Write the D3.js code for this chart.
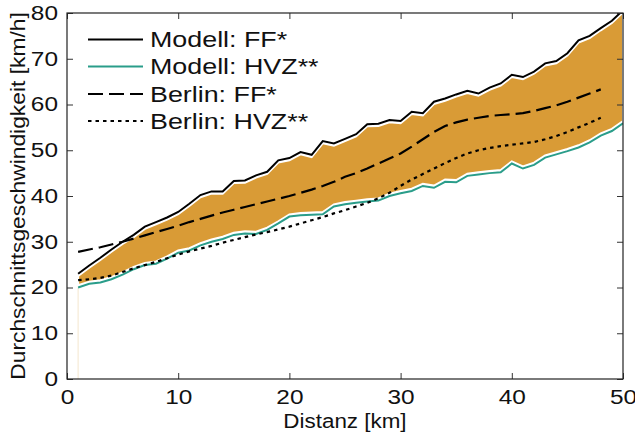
<!DOCTYPE html>
<html><head><meta charset="utf-8">
<script src="https://cdn.jsdelivr.net/npm/d3@7"></script>
<style>body{margin:0;background:#fff}svg{display:block;font-family:"Liberation Sans",Arial,sans-serif}</style>
</head><body><svg id="c" width="635" height="437"></svg>
<script>
const kmModel = d3.range(1, 51);
const modellFF = [23.0,24.8,26.5,28.3,30.0,31.5,33.3,34.3,35.3,36.5,38.3,40.2,41.0,41.0,43.3,43.4,44.5,45.3,47.8,48.3,
  49.6,49.0,52.0,51.5,52.5,53.5,55.7,55.8,56.6,56.4,58.4,58.1,60.6,61.3,62.2,63.0,62.4,63.7,64.6,66.5,
  66.0,67.2,69.0,69.5,71.2,74.0,75.0,76.7,78.3,80.6];
const modellHVZ = [20.0,20.8,21.1,21.8,22.8,24.0,24.9,25.2,26.3,27.6,28.1,29.2,30.0,30.6,31.5,31.8,31.7,32.6,34.0,35.5,
  35.8,35.9,36.0,37.7,38.2,38.5,38.8,39.0,40.0,40.6,41.1,42.2,41.8,43.1,43.0,44.4,44.7,45.0,45.2,47.1,
  46.0,46.8,48.4,49.1,49.8,50.6,51.7,53.2,54.2,55.9];
const kmBerlin = d3.range(1, 49);
const berlinFF = [27.8,28.3,28.8,29.4,30.0,30.7,31.4,32.1,32.8,33.5,34.3,35.0,35.7,36.4,37.0,37.6,38.2,38.8,39.4,40.0,
  40.7,41.4,42.2,43.1,44.2,45.0,46.0,47.1,48.2,49.3,50.8,52.4,54.0,55.3,56.1,56.7,57.1,57.5,57.7,57.9,
  58.1,58.6,59.2,59.8,60.6,61.5,62.4,63.3];
const berlinHVZ = [21.6,21.8,22.1,22.6,23.4,24.2,24.9,25.6,26.4,27.2,27.9,28.5,29.1,29.8,30.4,31.0,31.6,32.1,32.7,33.3,
  34.0,34.7,35.4,36.2,36.9,37.7,38.5,39.5,40.7,42.2,43.6,44.8,46.0,47.2,48.3,49.3,50.0,50.5,50.9,51.2,
  51.5,51.8,52.4,53.1,54.0,55.0,56.0,57.1];
const xTicks = [0,10,20,30,40,50];
const yTicks = [0,10,20,30,40,50,60,70,80];
const legendLabels = ["Modell: FF*","Modell: HVZ**","Berlin: FF*","Berlin: HVZ**"];
const xLabel = "Distanz [km]";
const yLabel = "Durchschnittsgeschwindigkeit [km/h]";

const L=67,R=623,T=13,B=379;
const svg=d3.select("#c");
const x=d3.scaleLinear().domain([0,50]).range([L,R]);
const y=d3.scaleLinear().domain([0,80]).range([B,T]);
const ORANGE="#d99b36", TEAL="#2a9d8a";

function stretch(sel,k){sel.each(function(){const w=this.getComputedTextLength();d3.select(this).attr("textLength",w*k).attr("lengthAdjust","spacingAndGlyphs");});}

svg.append("defs").append("clipPath").attr("id","clip").append("rect").attr("x",L).attr("y",T).attr("width",R-L).attr("height",B-T);
const g=svg.append("g").attr("clip-path","url(#clip)");

g.append("line").attr("x1",x(1)).attr("x2",x(1)).attr("y1",y(0)).attr("y2",y(modellHVZ[0])).attr("stroke","#f6ead6").attr("stroke-width",1.2);

const band=kmModel.map((k,i)=>({k,hi:modellFF[i],lo:modellHVZ[i]}));
g.append("path").datum(band)
 .attr("d",d3.area().x(d=>x(d.k)).y0(d=>y(d.lo)-2.2).y1(d=>y(d.hi)+2.2))
 .attr("fill",ORANGE).attr("stroke","#fff").attr("stroke-width",2);

const line=(ks,vs)=>d3.line().x((d,i)=>x(ks[i])).y(d=>y(d))(vs);
g.append("path").attr("d",line(kmModel,modellFF)).attr("fill","none").attr("stroke","#000").attr("stroke-width",2);
g.append("path").attr("d",line(kmModel,modellHVZ)).attr("fill","none").attr("stroke",TEAL).attr("stroke-width",2);
g.append("path").attr("d",line(kmBerlin,berlinFF)).attr("fill","none").attr("stroke","#000").attr("stroke-width",2.2).attr("stroke-dasharray","15,6");
g.append("path").attr("d",line(kmBerlin,berlinHVZ)).attr("fill","none").attr("stroke","#000").attr("stroke-width",2.2).attr("stroke-dasharray","3.5,4");

const fs=20;
const ax=svg.append("g").attr("transform",`translate(0,${B})`).call(d3.axisBottom(x).tickValues(xTicks).tickSizeInner(-6).tickSizeOuter(0).tickPadding(11));
const ay=svg.append("g").attr("transform",`translate(${L},0)`).call(d3.axisLeft(y).tickValues(yTicks).tickSizeInner(-6).tickSizeOuter(0).tickPadding(9));
const at=svg.append("g").attr("transform",`translate(0,${T})`).call(d3.axisTop(x).tickValues(xTicks).tickSizeInner(-6).tickSizeOuter(0).tickFormat(""));
const ar=svg.append("g").attr("transform",`translate(${R},0)`).call(d3.axisRight(y).tickValues(yTicks).tickSizeInner(-6).tickSizeOuter(0).tickFormat(""));
[ax,ay,at,ar].forEach(a=>{a.select(".domain").remove();a.selectAll("line").attr("stroke","#333");a.selectAll("text").attr("font-size",fs).attr("fill","#111").attr("font-family","Liberation Sans, Arial, sans-serif");});
ax.selectAll("text").attr("dy","0.71em");
stretch(ax.selectAll("text"),1.22);
stretch(ay.selectAll("text"),1.22);
svg.append("rect").attr("x",L).attr("y",T).attr("width",R-L).attr("height",B-T).attr("fill","none").attr("stroke","#222").attr("stroke-width",1.2);

const xl=svg.append("text").attr("x",(L+R)/2).attr("y",428).attr("text-anchor","middle").attr("font-size",fs).attr("fill","#111").text(xLabel);
stretch(xl,1.12);
const yl=svg.append("text").attr("transform",`translate(25,${(T+B)/2}) rotate(-90)`).attr("text-anchor","middle").attr("font-size",fs).attr("fill","#111").text(yLabel);
stretch(yl,1.14);

const styles=[{c:"#000",d:null},{c:TEAL,d:null},{c:"#000",d:"15,6"},{c:"#000",d:"3.5,4"}];
const ly=[39.5,66.5,94,121];
legendLabels.forEach((t,i)=>{
  const l=svg.append("line").attr("x1",88).attr("x2",143).attr("y1",ly[i]).attr("y2",ly[i]).attr("stroke",styles[i].c).attr("stroke-width",2);
  if(styles[i].d) l.attr("stroke-dasharray",styles[i].d);
  const tx=svg.append("text").attr("x",150).attr("y",ly[i]).attr("dy","0.36em").attr("font-size",22).attr("fill","#111").text(t);
  stretch(tx,1.22);
});
</script></body></html>
